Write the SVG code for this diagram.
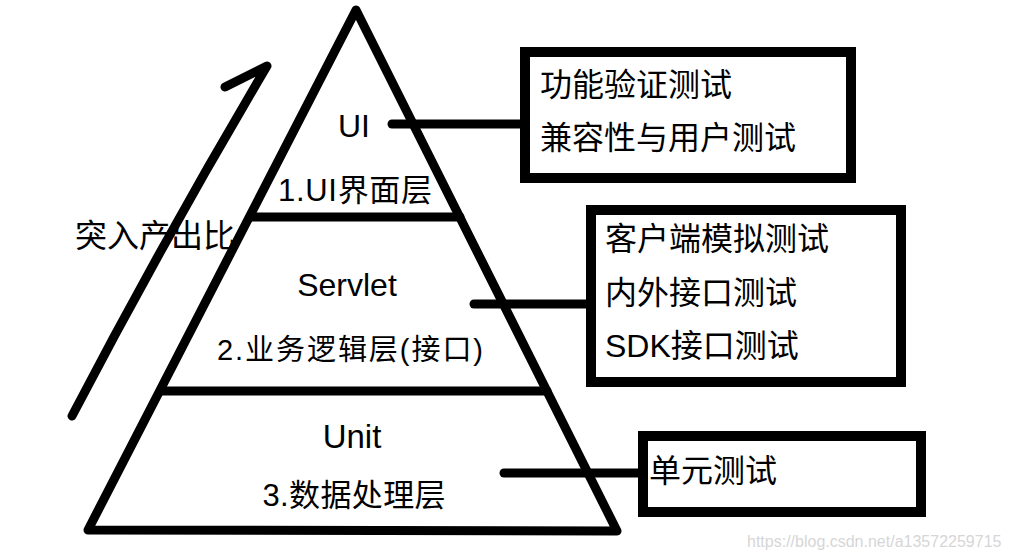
<svg xmlns="http://www.w3.org/2000/svg" width="1009" height="558" viewBox="0 0 1009 558">
<style>
  .ln{fill:none;stroke:#000;stroke-width:9;stroke-linejoin:round;stroke-linecap:round}
  .box{fill:#fff;stroke:#000;stroke-width:10}
  .conn{stroke:#000;stroke-width:9;stroke-linecap:round;fill:none}
  .t{font-family:"Liberation Sans","Noto Sans CJK SC",sans-serif;fill:#000}
  .c{text-anchor:middle}
  .wm{font-family:"Liberation Sans",Arial,sans-serif;font-size:16px;fill:#d6d6d6}
</style>
<rect width="1009" height="558" fill="#fff"/>
<g id="pyramid">
  <polygon class="ln" points="356,10 617,531 88,530"/>
  <line class="ln" x1="250" y1="217" x2="460" y2="217"/>
  <line class="ln" x1="161" y1="391" x2="547" y2="391"/>
</g>
<g id="connectors">
  <line class="conn" x1="392" y1="124" x2="520" y2="124"/>
  <line class="conn" x1="474" y1="304" x2="586" y2="304"/>
  <line class="conn" x1="504" y1="473" x2="638" y2="473"/>
</g>
<g id="arrow">
  <path class="ln" d="M225,87 L267,66 Q165,238 72,416"/>
  <text class="t" x="75" y="247" font-size="32">突入产出比</text>
</g>
<g id="node-ui">
  <text class="t c" x="354" y="137" font-size="32">UI</text>
  <text class="t c" x="355" y="201" font-size="31" textLength="154">1.UI界面层</text>
</g>
<g id="node-servlet">
  <text class="t c" x="347" y="296" font-size="32">Servlet</text>
  <text class="t c" x="350" y="360" font-size="29" textLength="266">2.业务逻辑层(接口)</text>
</g>
<g id="node-unit">
  <text class="t c" x="352" y="448" font-size="33">Unit</text>
  <text class="t c" x="354" y="506" font-size="31" textLength="183">3.数据处理层</text>
</g>
<g id="box-ui">
  <rect class="box" x="525" y="52" width="326" height="126"/>
  <text class="t" x="540" y="96" font-size="32">功能验证测试</text>
  <text class="t" x="540" y="149" font-size="32">兼容性与用户测试</text>
</g>
<g id="box-servlet">
  <rect class="box" x="591" y="210" width="310" height="172"/>
  <text class="t" x="605" y="250" font-size="32">客户端模拟测试</text>
  <text class="t" x="605" y="304" font-size="32">内外接口测试</text>
  <text class="t" x="605" y="357" font-size="32">SDK接口测试</text>
</g>
<g id="box-unit">
  <rect class="box" x="643" y="436" width="278" height="76"/>
  <text class="t" x="649" y="482" font-size="32">单元测试</text>
</g>
<text class="wm" x="747" y="547">https://blog.csdn.net/a13572259715</text>
</svg>
